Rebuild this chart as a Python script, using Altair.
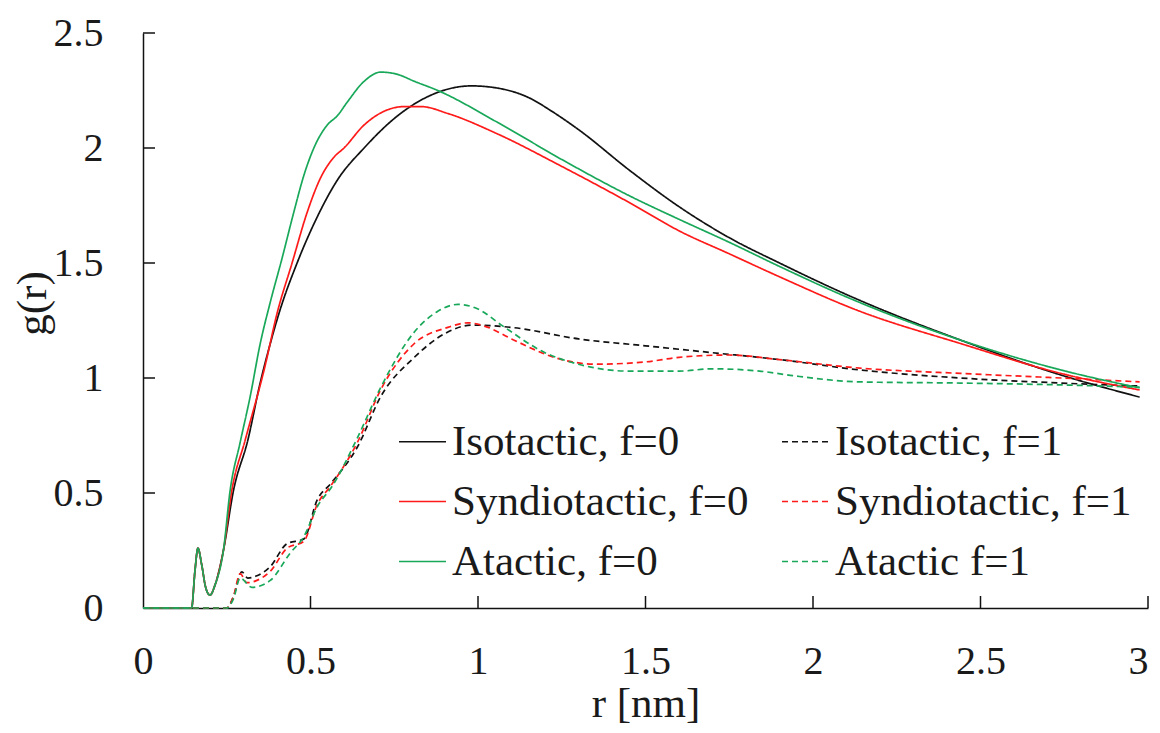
import altair as alt
import pandas as pd

# ---- data ----
# legend is filled column by column, so order is column-major
series_names = ["Isotactic, f=0", "Syndiotactic, f=0", "Atactic, f=0",
                "Isotactic, f=1", "Syndiotactic, f=1", "Atactic f=1"]
series_colors = ["#111111", "#ff1a1a", "#19a85a", "#111111", "#ff1a1a", "#19a85a"]
series_dash = [[1, 0], [1, 0], [1, 0], [6, 4], [6, 4], [6, 4]]

iso0_r = [0, 0.145, 0.155, 0.164, 0.175, 0.187, 0.2, 0.215, 0.24, 0.27, 0.313, 0.35, 0.38, 0.41, 0.46, 0.52, 0.58,
          0.66, 0.76, 0.86, 0.98, 1.06, 1.15, 1.22, 1.30, 1.455, 1.60, 1.75, 1.90, 2.12, 2.44, 2.74, 2.975]
iso0_g = [0, 0, 0.16, 0.26, 0.19, 0.09, 0.056, 0.1, 0.25, 0.51, 0.73, 0.98, 1.15, 1.30, 1.50, 1.70, 1.86,
          2.0, 2.14, 2.23, 2.27, 2.26, 2.22, 2.16, 2.08, 1.90, 1.745, 1.61, 1.50, 1.35, 1.165, 1.013, 0.917]

syn0_r = [0, 0.145, 0.155, 0.164, 0.175, 0.187, 0.2, 0.215, 0.24, 0.265, 0.305, 0.364, 0.40, 0.445, 0.49, 0.53,
          0.57, 0.60, 0.66, 0.72, 0.78, 0.83, 0.91, 1.06, 1.25, 1.455, 1.60, 1.75, 1.90, 2.14, 2.44, 2.74, 2.975]
syn0_g = [0, 0, 0.16, 0.26, 0.19, 0.09, 0.056, 0.1, 0.25, 0.51, 0.73, 1.05, 1.28, 1.50, 1.72, 1.87,
          1.96, 2.0, 2.10, 2.16, 2.18, 2.18, 2.15, 2.06, 1.92, 1.76, 1.64, 1.54, 1.44, 1.29, 1.15, 1.02, 0.948]

at0_r = [0, 0.145, 0.155, 0.164, 0.175, 0.187, 0.2, 0.215, 0.24, 0.26, 0.29, 0.32, 0.35, 0.38, 0.415, 0.45, 0.48,
         0.51, 0.55, 0.58, 0.61, 0.66, 0.71, 0.76, 0.81, 0.88, 1.06, 1.25, 1.455, 1.60, 1.75, 1.90, 2.12, 2.44,
         2.74, 2.975]
at0_g = [0, 0, 0.16, 0.26, 0.19, 0.09, 0.056, 0.1, 0.25, 0.51, 0.72, 0.92, 1.15, 1.33, 1.52, 1.72, 1.88,
         2.0, 2.1, 2.14, 2.2, 2.29, 2.33, 2.32, 2.29, 2.25, 2.11, 1.95, 1.79, 1.69, 1.59, 1.485, 1.34, 1.165,
         1.035, 0.957]

iso1_r = [0, 0.25, 0.27, 0.295, 0.313, 0.34, 0.38, 0.43, 0.48, 0.52, 0.56, 0.64, 0.71, 0.81, 0.91, 0.98, 1.10,
          1.30, 1.50, 1.70, 1.90, 2.14, 2.44, 2.74, 2.975]
iso1_g = [0, 0, 0.05, 0.157, 0.13, 0.14, 0.18, 0.28, 0.30, 0.47, 0.54, 0.70, 0.92, 1.09, 1.20, 1.23, 1.22,
          1.17, 1.14, 1.11, 1.08, 1.035, 1.0, 0.978, 0.965]

syn1_r = [0, 0.25, 0.27, 0.29, 0.31, 0.34, 0.38, 0.43, 0.48, 0.52, 0.56, 0.64, 0.71, 0.81, 0.91, 0.97, 1.03, 1.10,
          1.25, 1.35, 1.50, 1.60, 1.75, 1.90, 2.14, 2.44, 2.74, 2.975]
syn1_g = [0, 0, 0.05, 0.15, 0.11, 0.12, 0.16, 0.26, 0.29, 0.45, 0.53, 0.72, 0.95, 1.15, 1.22, 1.24, 1.22, 1.17,
          1.08, 1.06, 1.07, 1.09, 1.10, 1.08, 1.043, 1.02, 1.0, 0.983]

at1_r = [0, 0.25, 0.27, 0.29, 0.325, 0.38, 0.44, 0.48, 0.52, 0.565, 0.64, 0.71, 0.81, 0.88, 0.94, 1.0, 1.07,
         1.2, 1.3, 1.45, 1.6, 1.7, 1.84, 1.94, 2.14, 2.44, 2.74, 2.975]
at1_g = [0, 0, 0.04, 0.13, 0.09, 0.12, 0.24, 0.31, 0.44, 0.53, 0.74, 0.96, 1.2, 1.29, 1.32, 1.30, 1.23,
         1.11, 1.06, 1.03, 1.03, 1.04, 1.03, 1.01, 0.983, 0.978, 0.97, 0.96]

x_ticks = [0.5, 1, 1.5, 2, 2.5, 3]
y_ticks = [0.5, 1, 1.5, 2, 2.5]

# ---- build table ----
rows = []
for name, rr, gg in [("Isotactic, f=0", iso0_r, iso0_g), ("Isotactic, f=1", iso1_r, iso1_g),
                     ("Syndiotactic, f=0", syn0_r, syn0_g), ("Syndiotactic, f=1", syn1_r, syn1_g),
                     ("Atactic, f=0", at0_r, at0_g), ("Atactic f=1", at1_r, at1_g)]:
    for a, b in zip(rr, gg):
        rows.append({"series": name, "r": a, "g": b})
df = pd.DataFrame(rows)

FONT = "Liberation Serif, Times New Roman, Times, serif"
W, H = 1005, 575

xscale = alt.Scale(domain=[0, 3], nice=False, zero=False)
yscale = alt.Scale(domain=[0, 2.5], nice=False, zero=False)

legend = alt.Legend(title=None, orient="none", legendX=255, legendY=384, columns=2,
                    symbolType="stroke", symbolSize=2209, symbolStrokeWidth=1.6,
                    labelFont=FONT, labelFontSize=43, labelColor="#1a1a1a", labelOffset=5,
                    labelLimit=0, rowPadding=13, columnPadding=29, padding=0)

lines = alt.Chart(df).mark_line(strokeWidth=1.7, interpolate="monotone").encode(
    x=alt.X("r:Q", scale=xscale,
            axis=alt.Axis(title="r [nm]", values=[0, 0.5, 1, 1.5, 2, 2.5, 3], ticks=False, tickSize=0,
                          labelExpr="datum.value", labelFlush=False,
                          labelAlign=alt.ConditionalAxisLabelAlign(
                              condition={"test": "datum.value >= 3", "value": "right"}, value="center"),
                          labelPadding=33, labelFont=FONT, labelFontSize=40, labelColor="#1a1a1a",
                          titleFont=FONT, titleFontSize=43, titleFontWeight="normal", titleColor="#1a1a1a",
                          titleX=W / 2, titleY=108, titleBaseline="alphabetic", titleAlign="center",
                          domainColor="#111111", domainWidth=1.5, grid=False)),
    y=alt.Y("g:Q", scale=yscale,
            axis=alt.Axis(title="g(r)", values=[0, 0.5, 1, 1.5, 2, 2.5], ticks=False, tickSize=0,
                          labelExpr="datum.value", labelFlush=False,
                          labelPadding=40, labelFont=FONT, labelFontSize=40, labelColor="#1a1a1a",
                          titleFont=FONT, titleFontSize=43, titleFontWeight="normal", titleColor="#1a1a1a",
                          titleAngle=270, titleX=-111, titleY=270, titleBaseline="middle", titleAlign="center",
                          domainColor="#111111", domainWidth=1.5, grid=False)),
    color=alt.Color("series:N", scale=alt.Scale(domain=series_names, range=series_colors),
                    sort=series_names, legend=legend),
    strokeDash=alt.StrokeDash("series:N", scale=alt.Scale(domain=series_names, range=series_dash),
                              sort=series_names, legend=legend),
)

xt = pd.DataFrame({"t": x_ticks})
yt = pd.DataFrame({"t": y_ticks})

xtick_marks = alt.Chart(xt).mark_rule(color="#111111", strokeWidth=1.5).encode(
    x=alt.X("t:Q", scale=xscale), y=alt.value(H), y2=alt.value(H - 12))
ytick_marks = alt.Chart(yt).mark_rule(color="#111111", strokeWidth=1.5).encode(
    y=alt.Y("t:Q", scale=yscale), x=alt.value(0), x2=alt.value(12))

chart = alt.layer(lines, xtick_marks, ytick_marks).properties(
    width=W, height=H,
    autosize=alt.AutoSizeParams(type="none"),
    padding={"left": 135, "top": 25, "right": 4, "bottom": 117},
    background="white",
).configure_view(stroke=None)

chart.save("out.html", embed_options={"renderer": "svg", "actions": False})
